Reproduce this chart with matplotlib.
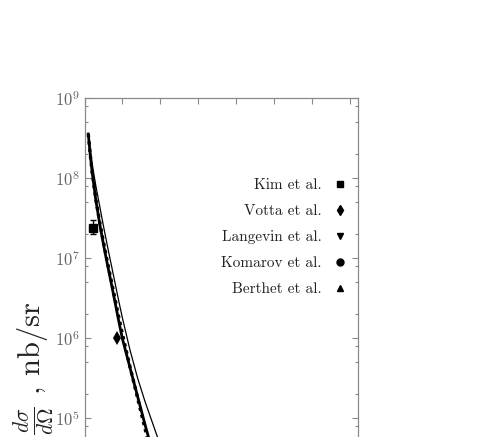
import matplotlib
matplotlib.use("Agg")
import matplotlib.pyplot as plt
import numpy as np
from matplotlib.ticker import LogLocator, MultipleLocator, NullFormatter

plt.rcParams["font.family"] = "cmr10"
plt.rcParams["mathtext.fontset"] = "cm"
plt.rcParams["axes.formatter.use_mathtext"] = True

# Theory curves (angle in degrees, log10 of cross section in nb/sr)
angle = [0.5, 0.75, 1.0, 1.5, 2.0, 2.5, 3.0, 3.5, 4.0, 4.5, 5.0, 6.0, 7.0, 8.0, 9.0, 10.0, 11.0]
log_thick = [8.55, 8.30, 8.08, 7.72, 7.43, 7.17, 6.93, 6.70, 6.46, 6.22, 5.99,
             5.63, 5.27, 4.91, 4.57, 4.25, 3.95]
log_dotted = [8.55, 8.30, 8.08, 7.73, 7.45, 7.20, 6.96, 6.73, 6.50, 6.27, 6.05,
              5.64, 5.25, 4.86, 4.48, 4.12, 3.78]
log_thin = [8.55, 8.35, 8.18, 7.90, 7.65, 7.40, 7.16, 6.93, 6.70, 6.47, 6.25,
            5.85, 5.50, 5.20, 4.93, 4.66, 4.40]

# Experimental points
kim_x = [1.16]
kim_y = [2.4e7]
kim_err_lo = [0.4e7]
kim_err_hi = [0.6e7]
votta_x = [4.24]
votta_y = [1.0e6]

legend_labels = ["Kim et al.", "Votta et al.", "Langevin et al.", "Komarov et al.", "Berthet et al."]
legend_markers = ["s", "d", "v", "o", "^"]

fig = plt.figure(figsize=(4.98, 4.37), dpi=100)
# the axes reach below the bottom of the cropped picture
ax = fig.add_axes([84.5 / 498, (437 - 658) / 437, 273 / 498, 560 / 437])

ax.plot(angle, 10 ** np.array(log_thin), color="k", lw=0.9)
ax.plot(angle, 10 ** np.array(log_thick), color="k", lw=2.0)
ax.plot(angle, 10 ** np.array(log_dotted), color="k", lw=2.4, ls=(0, (1, 1.2)))

ax.errorbar(kim_x, kim_y, yerr=[kim_err_lo, kim_err_hi], fmt="none",
            ecolor="k", elinewidth=1, capsize=2.5)

handles = []
for lab, m in zip(legend_labels, legend_markers):
    h, = ax.plot([], [], ls="none", marker=m, color="k", ms=5, label=lab)
    handles.append(h)
ax.plot(kim_x, kim_y, ls="none", marker="s", color="k", ms=5.5)
ax.plot(votta_x, votta_y, ls="none", marker="d", color="k", ms=7, mew=0)

ax.set_yscale("log")
ax.set_ylim(1e2, 1e9)
ax.set_xlim(0, 36)
ax.xaxis.set_major_locator(MultipleLocator(5))
ax.yaxis.set_major_locator(LogLocator(base=10, numticks=20))
ax.yaxis.set_minor_locator(LogLocator(base=10, subs=(2, 5, 8), numticks=20))
ax.yaxis.set_minor_formatter(NullFormatter())

for s in ax.spines.values():
    s.set_color("#8a8a8a")
    s.set_linewidth(0.9)
ax.tick_params(which="both", direction="in", top=True, right=True,
               color="#8a8a8a", labelcolor="#666666", labelsize=12)
ax.tick_params(which="major", length=4.5, width=0.8)
ax.tick_params(which="minor", length=2.5, width=0.8)
ax.tick_params(axis="x", labelbottom=False)

ax.set_ylabel(r"$\frac{d\sigma}{d\Omega}$ , nb/sr", fontsize=22, color="#222222")
ax.yaxis.set_label_coords(-0.1, 0.518)

ax.legend(handles=handles, loc="upper right", bbox_to_anchor=(0.985, 0.87),
          frameon=False, markerfirst=False, handlelength=0.8, handletextpad=0.8,
          labelspacing=0.8, borderpad=0, fontsize=11, labelcolor="#222222")

fig.savefig("out.png", dpi=100)
